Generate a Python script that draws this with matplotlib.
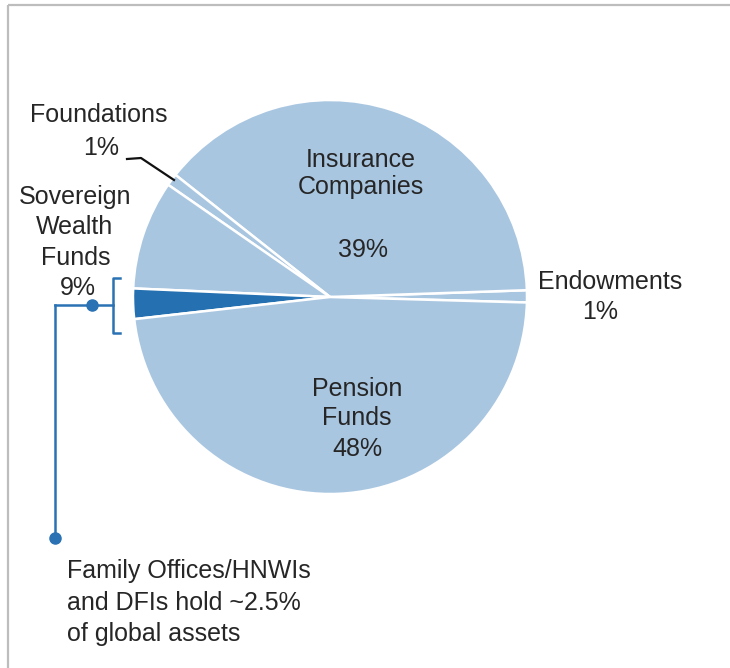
import matplotlib.pyplot as plt

plt.rcParams['font.family'] = ['Liberation Sans', 'DejaVu Sans']

W, H = 730, 668

labels = ["Endowments", "Insurance Companies", "Foundations",
          "Sovereign Wealth Funds", "Family Offices/HNWIs and DFIs", "Pension Funds"]
shares = [1, 39, 1, 9, 2.5, 48]
colors = ["#a9c6e1", "#a9c6e1", "#a9c6e1", "#a9c6e1", "#2470b0", "#a9c6e1"]

light_txt = "#262626"
blue = "#2a72b4"


def py(y):
    # pixel row (from top) -> data y
    return H - y


fig = plt.figure(figsize=(W / 100, H / 100), dpi=100)
ax = fig.add_axes([0, 0, 1, 1])

ax.pie(shares, colors=colors, startangle=-1.6, counterclock=True,
       center=(330, py(297)), radius=197,
       wedgeprops=dict(edgecolor="white", linewidth=1.8))
ax.set_xlim(0, W)
ax.set_ylim(0, H)
ax.set_aspect("equal")
ax.axis("off")

# frame lines (top and left)
ax.plot([8, W], [py(5), py(5)], color="#bdbdbd", lw=1.6, solid_capstyle="butt")
ax.plot([8, 8], [py(5), 0], color="#bdbdbd", lw=1.6, solid_capstyle="butt")

fs = 18
kw = dict(fontsize=fs, color=light_txt, ha="center", va="center")

# inside labels
ax.text(361, py(160), "Insurance", **kw)
ax.text(361, py(187), "Companies", **kw)
ax.text(363, py(250), "39%", **kw)
ax.text(357, py(389), "Pension", **kw)
ax.text(357, py(418), "Funds", **kw)
ax.text(357, py(449), "48%", **kw)

# outside labels
ax.text(610, py(282), "Endowments", **kw)
ax.text(600, py(312), "1%", **kw)
ax.text(99, py(115), "Foundations", **kw)
ax.text(101, py(148), "1%", **kw)
ax.text(75, py(197), "Sovereign", **kw)
ax.text(75, py(227), "Wealth", **kw)
ax.text(76, py(258), "Funds", **kw)
ax.text(78, py(288), "9%", **kw)

# foundations leader
ax.plot([127, 141, 174], [py(159), py(158), py(180)], color="#111111", lw=1.6)

# bracket for family offices
ax.plot([120, 113, 113, 120], [py(278), py(278), py(333), py(333)], color=blue, lw=1.8)
ax.plot([55, 113], [py(305), py(305)], color=blue, lw=1.8)
ax.plot([55, 55], [py(305), py(538)], color=blue, lw=1.8)
ax.plot([92], [py(305)], "o", color=blue, ms=8)
ax.plot([55], [py(538)], "o", color=blue, ms=8)

for i, line in enumerate(["Family Offices/HNWIs", "and DFIs hold ~2.5%", "of global assets"]):
    ax.text(67, py(571 + 31.5 * i), line, fontsize=fs, color=light_txt, ha="left", va="center")

fig.savefig("out.png", dpi=100)
